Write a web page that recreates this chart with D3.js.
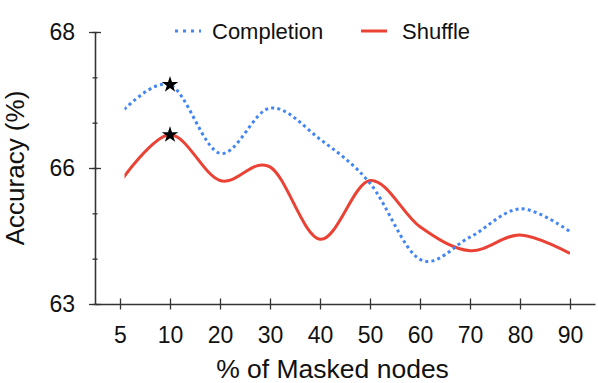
<!DOCTYPE html>
<html lang="en">
<head>
  <meta charset="UTF-8">
  <title>Accuracy vs masked nodes</title>
  <script src="https://d3js.org/d3.v7.min.js"></script>
  <style>
    body {
      margin: 0;
      background: #fff;
      font-family: "Liberation Sans", Arial, sans-serif;
    }
    .axis path, .axis line {
      stroke: #333;
      stroke-width: 1.3px;
    }
    .axis text {
      fill: #111;
      font-size: 23px;
    }
  </style>
</head>
<body>
<div id="chart"></div>
<script>
  // data
  const maskLabels = ["5", "10", "20", "30", "40", "50", "60", "70", "80", "90"];
  const completion = [66.50, 67.03, 65.77, 66.60, 66.03, 65.22, 63.82, 64.23, 64.75, 64.33];
  const shuffle = [65.24, 66.11, 65.27, 65.52, 64.19, 65.27, 64.42, 63.98, 64.27, 63.93];
  const bestIndex = 1;
  const yTicks = [63, 65.5, 68];
  const yTickLabels = ["63", "66", "68"];
  const yMinor = d3.range(7).map(i => 63 + i * 5 / 6);

  const width = 598, height = 383;
  const margin = { top: 32, right: 3, bottom: 79, left: 95 };

  const svg = d3.select("#chart")
    .append("svg")
    .attr("width", width)
    .attr("height", height);

  const x = d3.scaleLinear()
    .domain([-0.5, maskLabels.length - 0.5])
    .range([margin.left, width - margin.right]);

  const y = d3.scaleLinear()
    .domain([63, 68])
    .range([height - margin.bottom, margin.top]);

  // x axis, ticks crossing the line
  const xAxis = svg.append("g")
    .attr("class", "axis")
    .attr("transform", `translate(0,${y(63)})`)
    .call(d3.axisBottom(x)
      .tickValues(d3.range(maskLabels.length))
      .tickFormat(i => maskLabels[i])
      .tickSizeOuter(0)
      .tickSizeInner(5.5)
      .tickPadding(17));
  xAxis.selectAll(".tick line").attr("y1", -5.5);

  // y axis: minor ticks then major ticks with labels
  const yMinorAxis = svg.append("g")
    .attr("class", "axis")
    .attr("transform", `translate(${margin.left},0)`)
    .call(d3.axisLeft(y).tickValues(yMinor).tickFormat("").tickSizeOuter(0).tickSizeInner(2.5));
  yMinorAxis.selectAll(".tick line").attr("x1", 2.5);

  const yAxis = svg.append("g")
    .attr("class", "axis")
    .attr("transform", `translate(${margin.left},0)`)
    .call(d3.axisLeft(y)
      .tickValues(yTicks)
      .tickFormat((d, i) => yTickLabels[i])
      .tickSizeOuter(0)
      .tickSizeInner(6)
      .tickPadding(14));
  yAxis.selectAll(".tick line").attr("x1", 6);

  // axis titles
  svg.append("text")
    .attr("x", 332.5)
    .attr("y", 378)
    .attr("text-anchor", "middle")
    .style("font-size", "26.5px")
    .style("fill", "#111")
    .text("% of Masked nodes");

  svg.append("text")
    .attr("transform", `translate(24,${(y(63) + y(68)) / 2}) rotate(-90)`)
    .attr("text-anchor", "middle")
    .style("font-size", "26px")
    .style("fill", "#111")
    .text("Accuracy (%)");

  // curves (the drawn lines start a little right of the first tick)
  svg.append("clipPath")
    .attr("id", "plotClip")
    .append("rect")
    .attr("x", x(0.09))
    .attr("y", 0)
    .attr("width", x(9) - x(0.09))
    .attr("height", height);

  const line = d3.line()
    .x((d, i) => x(i))
    .y(d => y(d))
    .curve(d3.curveCatmullRom.alpha(0));

  svg.append("path")
    .datum(shuffle)
    .attr("clip-path", "url(#plotClip)")
    .attr("fill", "none")
    .attr("stroke", "#EA4335")
    .attr("stroke-width", 3)
    .attr("d", line);

  svg.append("path")
    .datum(completion)
    .attr("clip-path", "url(#plotClip)")
    .attr("fill", "none")
    .attr("stroke", "#4285F4")
    .attr("stroke-width", 3)
    .attr("stroke-dasharray", "3,3.2")
    .attr("d", line);

  // best points
  const star = d3.symbol().type(d3.symbolStar).size(85);
  svg.selectAll(".best")
    .data([completion[bestIndex], shuffle[bestIndex]])
    .enter()
    .append("path")
    .attr("class", "best")
    .attr("transform", d => `translate(${x(bestIndex)},${y(d)})`)
    .attr("d", star)
    .attr("fill", "#000");

  // legend
  const legend = svg.append("g").attr("transform", "translate(0,31)");
  const items = [
    { name: "Completion", color: "#4285F4", dash: "3,5", x0: 175 },
    { name: "Shuffle", color: "#EA4335", dash: null, x0: 361 }
  ];
  items.forEach(it => {
    legend.append("line")
      .attr("x1", it.x0).attr("x2", it.x0 + 26)
      .attr("stroke", it.color)
      .attr("stroke-width", 3)
      .attr("stroke-dasharray", it.dash);
    legend.append("text")
      .attr("x", it.x0 + 38 + (it.dash ? -1 : 3))
      .attr("y", 8)
      .style("font-size", "22px")
      .style("fill", "#111")
      .text(it.name);
  });
</script>
</body>
</html>
